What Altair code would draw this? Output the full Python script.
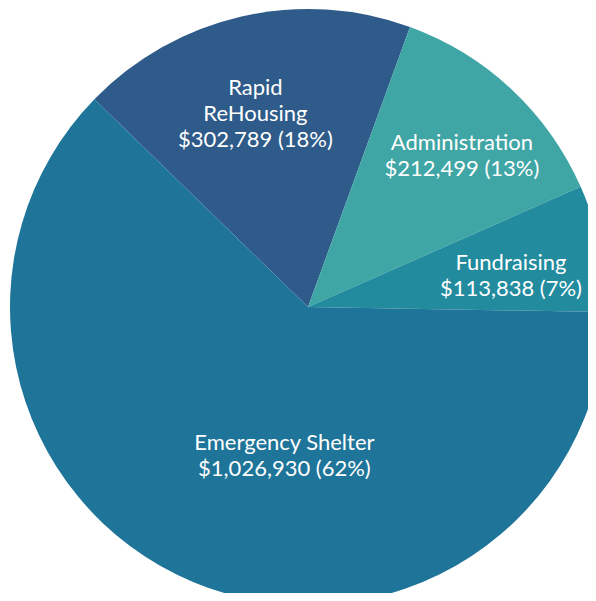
import math
import altair as alt
import pandas as pd

categories = ["Rapid ReHousing", "Administration", "Fundraising", "Emergency Shelter"]
label_names = ["Rapid\nReHousing", "Administration", "Fundraising", "Emergency Shelter"]
amounts = [302789, 212499, 113838, 1026930]
colors = ["#2e5b89", "#40a5a5", "#228b9e", "#1f7499"]

total = sum(amounts)
labels = [
    f"{n}\n${v:,} ({round(v / total * 100)}%)" for n, v in zip(label_names, amounts)
]
df = pd.DataFrame({
    "category": categories,
    "amount": amounts,
    "order": list(range(len(categories))),
    "label": labels,
})

start = 2 * math.pi - math.radians(45.8)
theta_scale = alt.Scale(range=[start, start + 2 * math.pi], domain=[0, total])

CX, CY = 300, 299

pie = alt.Chart(df).mark_arc(outerRadius=298).encode(
    theta=alt.Theta("amount:Q", stack=True, scale=theta_scale),
    order=alt.Order("order:Q"),
    color=alt.Color("category:N", scale=alt.Scale(domain=categories, range=colors), legend=None),
    x=alt.value(CX),
    y=alt.value(CY),
)

label_style = {
    "Rapid ReHousing": dict(radius=200, dx=-8, dy=-24),
    "Administration": dict(radius=215, dx=7, dy=-7),
    "Fundraising": dict(radius=205, dx=2, dy=-3),
    "Emergency Shelter": dict(radius=150, dx=34, dy=-3),
}

text_base = alt.Chart(df).transform_window(
    cum="sum(amount)", sort=[alt.SortField("order")]
).transform_calculate(
    mid="datum.cum - datum.amount / 2"
)

layers = [pie]
for cat, st in label_style.items():
    layers.append(
        text_base.transform_filter(alt.datum.category == cat).mark_text(
            radius=st["radius"], dx=st["dx"], dy=st["dy"],
            font="Lato", fontSize=22, lineHeight=26, lineBreak="\n",
            color="white", align="center", baseline="middle",
        ).encode(
            theta=alt.Theta("mid:Q", stack=None, scale=theta_scale),
            text="label:N",
            x=alt.value(CX),
            y=alt.value(CY),
        )
    )

chart = alt.layer(*layers).properties(
    width=580, height=585, padding=0,
    autosize=alt.AutoSizeParams(type="none"),
).configure_view(stroke=None)

chart.save("out.html", embed_options={"renderer": "svg", "actions": False})
